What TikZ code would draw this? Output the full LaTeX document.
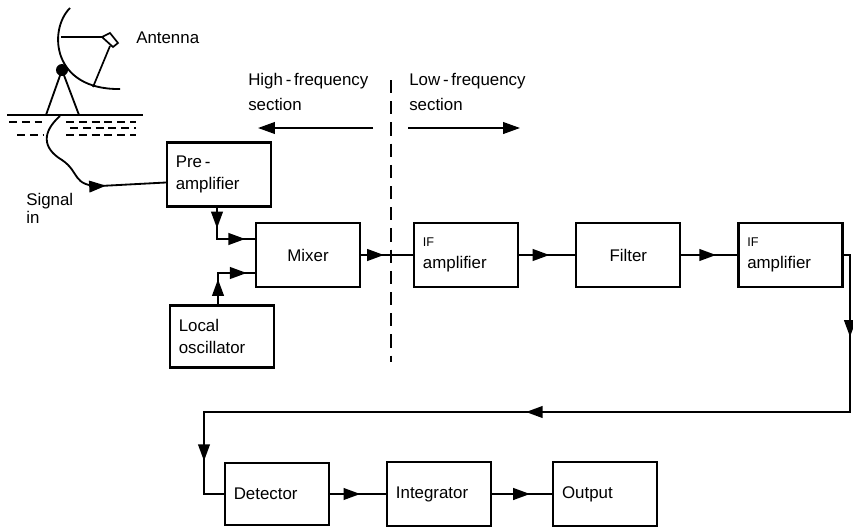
\documentclass[tikz,border=0pt]{standalone}
\usepackage{fontspec}
\setmainfont{Liberation Sans}
\usetikzlibrary{positioning,arrows.meta,decorations.markings}
\tikzset{%
  blockBox/.style={%
    rectangle,
    draw=black,
    line width=1.5pt,
    fill=white,
    text width=2.16cm,
    inner xsep=0.22cm,
    minimum height=1.6cm,
    align=left,
    font=\fontsize{12}{16}\selectfont
  },
  signalLine/.style={%
    line width=1.6pt
  },
  arrowAt/.style={%
    postaction={decorate, decoration={markings,
      mark=at position #1 with {\arrow{Triangle[length=4.2mm,width=2.9mm]}}}}
  },
  sectionArrow/.style={%
    -{Triangle[length=4.2mm,width=2.9mm]},
    line width=1.3pt
  },
  plainLabel/.style={%
    align=left,
    inner sep=0pt,
    font=\fontsize{12}{17.5}\selectfont
  },
  waterLine/.style={%
    line width=1pt,
    dash pattern=on 0.2cm off 0.12cm
  }
}

\begin{document}
\begin{tikzpicture}[x=0.025cm, y=-0.025cm]
  \useasboundingbox (0,0) rectangle (853,526);

  % antenna on its mount
  \draw[line width=1.3pt] (70,8) .. controls (48,30) and (52,90) .. (120,89);
  \draw[line width=1.2pt] (61,37) -- (102,37);
  \draw[line width=1.2pt] (102,37) -- (110,33) -- (118,43) -- (113,47) -- cycle;
  \draw[line width=1.2pt] (110,46) -- (93,87);
  \fill (62,70) circle[radius=0.15cm];
  \draw[line width=1.3pt] (46,115) -- (62,70) -- (79,115);
  \draw[line width=1.3pt] (7,115) -- (143,115);
  \foreach \yy/\xa/\xb in {122/9/42, 122/66/136, 128/70/136, 135/17/44, 135/66/136}
    \draw[waterLine] (\xa,\yy) -- (\xb,\yy);

  \node[plainLabel, anchor=west] (antLabel) at (136,38) {Antenna};
  \node[plainLabel, anchor=north west, font=\fontsize{12}{13}\selectfont] (sigLabel) at (26,193) {Signal\\in};

  % front end
  \node[blockBox] (preamp) at (219,174.5) {Pre\,-\\amplifier};
  \node[blockBox, align=center] (mixer) at (308,255) {Mixer};
  \node[blockBox, minimum height=1.55cm] (osc) at (222,336.5) {Local\\oscillator};

  % IF chain
  \node[blockBox, right=1.3cm of mixer] (ifampA) {{\fontsize{9}{10}\selectfont IF}\\amplifier};
  \node[blockBox, align=center, right=1.4cm of ifampA] (filter) {Filter};
  \node[blockBox, right=1.4cm of filter] (ifampB) {{\fontsize{9}{10}\selectfont IF}\\amplifier};

  % output chain
  \node[blockBox, minimum height=1.55cm] (detector) at (277,494) {Detector};
  \node[blockBox, right=1.4cm of detector] (integrator) {Integrator};
  \node[blockBox, right=1.5cm of integrator] (output) {Output};

  % section split
  \coordinate (divTop) at (391,80);
  \coordinate (divBottom) at (391,362);
  \draw[line width=1.3pt, dash pattern=on 0.33cm off 0.2cm] (divTop) -- (divBottom);

  \node[plainLabel, anchor=north west] (hfLabel) at (248,73) {High\,-\,frequency\\section};
  \node[plainLabel, anchor=north west] (lfLabel) at (409,73) {Low\,-\,frequency\\section};
  \coordinate (hfStart) at (373,128);
  \coordinate (hfEnd) at (258,128);
  \coordinate (lfStart) at (408,128);
  \coordinate (lfEnd) at (520,128);
  \draw[sectionArrow] (hfStart) -- (hfEnd);
  \draw[sectionArrow] (lfStart) -- (lfEnd);

  % signal path
  \coordinate (cableTop) at (60,116);
  \draw[line width=1.3pt, arrowAt=-1.5cm] (cableTop)
    .. controls (42,132) and (42,148) .. (62,160)
    .. controls (80,172) and (72,186) .. (100,186)
    -- ([yshift=-0.2cm]preamp.west);
  \draw[signalLine, arrowAt=0.3, arrowAt=0.86]
    ([xshift=-0.05cm]preamp.south) |- ([yshift=0.4cm]mixer.west);
  \draw[signalLine, arrowAt=0.37, arrowAt=0.88]
    ([xshift=-0.1cm]osc.north) |- ([yshift=-0.45cm]mixer.west);
  \draw[signalLine, arrowAt=0.44] (mixer) -- (ifampA);
  \draw[signalLine, arrowAt=0.54] (ifampA) -- (filter);
  \draw[signalLine, arrowAt=0.62] (filter) -- (ifampB);

  \coordinate (returnRight) at (850,412);
  \coordinate (returnLeft) at (204,412);
  \draw[signalLine, arrowAt=0.097, arrowAt=0.535, arrowAt=0.942]
    (ifampB.east) -| (returnRight) -- (returnLeft) |- (detector.west);
  \draw[signalLine, arrowAt=0.54] (detector) -- (integrator);
  \draw[signalLine, arrowAt=0.63] (integrator) -- (output);
\end{tikzpicture}
\end{document}
